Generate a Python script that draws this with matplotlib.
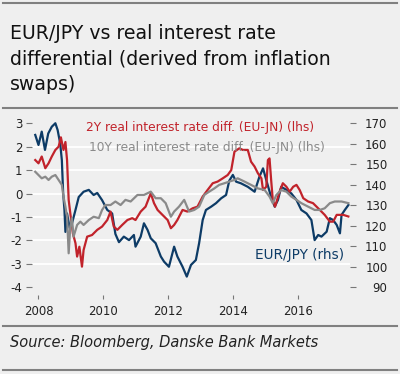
import matplotlib.pyplot as plt
from matplotlib.lines import Line2D

# decimal years and values
fx_t = [2007.90, 2008.00, 2008.10, 2008.20, 2008.30, 2008.41, 2008.52, 2008.59, 2008.67, 2008.72,
        2008.76, 2008.80, 2008.83, 2008.88, 2008.96, 2009.03, 2009.14, 2009.24, 2009.39, 2009.55,
        2009.70, 2009.81, 2009.96, 2010.12, 2010.27, 2010.37, 2010.48, 2010.63, 2010.79, 2010.94,
        2010.99, 2011.15, 2011.25, 2011.36, 2011.46, 2011.61, 2011.77, 2011.87, 2012.02, 2012.18,
        2012.28, 2012.44, 2012.57, 2012.70, 2012.85, 2012.95, 2013.06, 2013.16, 2013.32, 2013.47,
        2013.63, 2013.78, 2013.88, 2013.99, 2014.09, 2014.24, 2014.45, 2014.66, 2014.81, 2014.92,
        2015.02, 2015.17, 2015.28, 2015.38, 2015.48, 2015.64, 2015.79, 2015.95, 2016.10, 2016.26,
        2016.41, 2016.51, 2016.62, 2016.72, 2016.88, 2016.98, 2017.08, 2017.19, 2017.29, 2017.34,
        2017.44, 2017.55]
eurjpy = [164.3, 159.4, 165.9, 157.0, 165.0, 168.3, 170.0, 166.7, 160.0, 152.0,
          136.0, 127.7, 117.0, 126.0, 119.0, 121.0, 127.7, 134.0, 136.6, 137.5,
          135.0, 136.0, 132.5, 127.7, 126.0, 116.0, 112.0, 114.7, 113.0, 115.5,
          109.8, 114.7, 121.2, 118.0, 113.9, 111.5, 105.0, 102.5, 100.0, 109.8,
          105.0, 100.0, 95.2, 100.9, 103.3, 111.5, 122.8, 127.7, 129.3, 131.0,
          133.4, 135.0, 142.0, 144.8, 141.5, 140.7, 139.0, 136.6, 144.0, 148.0,
          142.3, 134.0, 129.3, 132.6, 139.0, 137.5, 135.8, 132.6, 127.7, 126.0,
          122.8, 113.0, 115.5, 114.7, 117.1, 123.7, 122.8, 120.4, 116.3, 125.3,
          127.7, 130.1]

r2_t = [2007.90, 2008.00, 2008.10, 2008.21, 2008.31, 2008.41, 2008.52, 2008.62, 2008.69, 2008.77,
        2008.83, 2008.88, 2008.93, 2008.98, 2009.06, 2009.14, 2009.19, 2009.26, 2009.34, 2009.39,
        2009.50, 2009.65, 2009.81, 2009.96, 2010.12, 2010.22, 2010.32, 2010.43, 2010.58, 2010.74,
        2010.89, 2010.99, 2011.15, 2011.30, 2011.46, 2011.56, 2011.67, 2011.82, 2011.98, 2012.08,
        2012.18, 2012.28, 2012.44, 2012.59, 2012.75, 2012.90, 2013.06, 2013.21, 2013.37, 2013.52,
        2013.68, 2013.83, 2013.94, 2014.04, 2014.19, 2014.30, 2014.45, 2014.55, 2014.66, 2014.76,
        2014.87, 2014.92, 2015.02, 2015.07, 2015.12, 2015.17, 2015.22, 2015.29, 2015.43, 2015.53,
        2015.64, 2015.74, 2015.85, 2015.95, 2016.05, 2016.16, 2016.31, 2016.46, 2016.62, 2016.82,
        2016.98, 2017.08, 2017.19, 2017.29, 2017.39, 2017.55]
real2y = [1.43, 1.29, 1.58, 1.08, 1.29, 1.58, 1.86, 2.0, 2.4, 1.86,
          2.2, 1.43, -0.27, -0.84, -1.7, -2.12, -2.69, -2.27, -3.12, -2.41,
          -1.84, -1.77, -1.55, -1.41, -1.13, -0.77, -1.41, -1.55, -1.34, -1.13,
          -1.05, -1.13, -0.77, -0.56, 0.01, -0.41, -0.7, -0.91, -1.13, -1.48,
          -1.34, -1.13, -0.7, -0.77, -0.63, -0.56, -0.13, 0.15, 0.44, 0.51,
          0.65, 0.79, 1.0, 1.79, 1.93, 1.86, 1.86, 1.36, 1.15, 0.87,
          0.65, 0.15, 0.29, 1.43, 1.5, 0.58, -0.27, -0.56, 0.08, 0.44,
          0.29, 0.08, 0.29, 0.37, 0.15, -0.2, -0.34, -0.41, -0.63, -0.91,
          -1.2, -1.2, -0.91, -0.91, -0.91, -0.98]

r10_t = [2007.90, 2008.00, 2008.10, 2008.21, 2008.31, 2008.41, 2008.52, 2008.62, 2008.72, 2008.77,
         2008.83, 2008.88, 2008.93, 2008.98, 2009.03, 2009.08, 2009.19, 2009.29, 2009.39, 2009.55,
         2009.70, 2009.86, 2009.96, 2010.06, 2010.22, 2010.37, 2010.53, 2010.68, 2010.84, 2011.05,
         2011.25, 2011.46, 2011.61, 2011.77, 2011.92, 2012.08, 2012.18, 2012.33, 2012.49, 2012.64,
         2012.80, 2012.95, 2013.11, 2013.26, 2013.42, 2013.57, 2013.73, 2013.88, 2014.04, 2014.14,
         2014.35, 2014.55, 2014.76, 2014.97, 2015.12, 2015.22, 2015.33, 2015.48, 2015.64, 2015.79,
         2015.95, 2016.10, 2016.31, 2016.51, 2016.67, 2016.82, 2016.98, 2017.13, 2017.34, 2017.55]
real10y = [0.93, 0.79, 0.65, 0.72, 0.58, 0.72, 0.79, 0.58, 0.37, -0.13,
           -0.56, -0.99, -2.55, -1.41, -1.05, -1.84, -1.34, -1.2, -1.34, -1.13,
           -0.99, -1.05, -0.7, -0.49, -0.49, -0.34, -0.49, -0.27, -0.34, -0.06,
           -0.06, 0.08, -0.2, -0.2, -0.41, -0.99, -0.77, -0.56, -0.27, -0.77,
           -0.7, -0.56, -0.06, 0.08, 0.22, 0.37, 0.44, 0.51, 0.58, 0.65,
           0.51, 0.37, 0.22, 0.15, -0.13, -0.41, -0.06, 0.15, 0.08, -0.13,
           -0.27, -0.41, -0.56, -0.7, -0.7, -0.63, -0.41, -0.34, -0.34, -0.41]

left_ticks = [-4, -3, -2, -1, 0, 1, 2, 3]
right_ticks = [90, 100, 110, 120, 130, 140, 150, 160, 170]
year_ticks = [2008, 2010, 2012, 2014, 2016]

bg = '#efefef'
red = '#c1232b'
navy = '#0d3b66'
grey = '#8a8a8a'
txt = '#222222'

fig = plt.figure(figsize=(4.0, 3.74), dpi=100, facecolor=bg)
W, H = 400, 374

ax = fig.add_axes([32 / W, 1 - 295 / H, 318 / W, 183 / H])
ax2 = ax.twinx()
# rates on top of EUR/JPY
ax.set_zorder(ax2.get_zorder() + 1)
ax.patch.set_visible(False)
ax2.set_facecolor(bg)

ax.set_ylim(-4.33, 3.48)
lo, hi = ax.get_ylim()
ax2.set_ylim(90 + (lo + 4) * 80 / 7, 90 + (hi + 4) * 80 / 7)
ax.set_xlim(2007.8, 2017.6)

# gridlines for the left scale, drawn beneath everything
ax2.set_yticks([90 + (v + 4) * 80 / 7 for v in left_ticks], minor=True)
ax2.grid(which='minor', axis='y', color='white', linewidth=1.3)
ax2.tick_params(which='minor', length=0)

ax2.plot(fx_t, eurjpy, color=navy, linewidth=1.6)
ax.plot(r2_t, real2y, color=red, linewidth=1.6)
ax.plot(r10_t, real10y, color=grey, linewidth=1.6)

for a in (ax, ax2):
    for s in a.spines.values():
        s.set_visible(False)

ax.set_yticks(left_ticks)
ax.set_yticklabels([str(v) for v in left_ticks])
ax.set_xticks(year_ticks)
ax.set_xticklabels([str(v) for v in year_ticks])
ax.tick_params(axis='y', length=4, width=0.8, color='#777777', pad=3,
               labelsize=8.5, labelcolor=txt)
ax.tick_params(axis='x', length=3, width=0.8, color='#777777', pad=4,
               labelsize=8.5, labelcolor=txt)

ax2.set_yticks(right_ticks)
ax2.set_yticklabels([str(v) for v in right_ticks])
ax2.tick_params(axis='y', which='major', length=4, width=0.8, color='#777777', pad=23,
                labelsize=8.5, labelcolor=txt)
for lbl in ax2.get_yticklabels():
    lbl.set_horizontalalignment('right')

# series labels
fig.text(86 / W, 1 - 128 / H, '2Y real interest rate diff. (EU-JN) (lhs)',
         color=red, fontsize=8.8, va='center', ha='left')
fig.text(89 / W, 1 - 147 / H, '10Y real interest rate diff. (EU-JN) (lhs)',
         color=grey, fontsize=8.8, va='center', ha='left')
fig.text(255 / W, 1 - 255 / H, 'EUR/JPY (rhs)',
         color=navy, fontsize=9.8, va='center', ha='left')

# title and source
fig.text(10 / W, 1 - 24 / H, 'EUR/JPY vs real interest rate\ndifferential (derived from inflation\nswaps)',
         fontsize=13.6, color='#111111', va='top', ha='left', linespacing=1.42)
fig.text(10 / W, 1 - 343 / H, 'Source: Bloomberg, Danske Bank Markets',
         fontsize=10.5, style='italic', color=txt, va='center', ha='left')

for yy in (3, 107.5, 326, 370):
    fig.add_artist(Line2D([3 / W, 397 / W], [1 - yy / H, 1 - yy / H],
                          color='#808080', linewidth=1.5))

fig.savefig('out.png', dpi=100, facecolor=bg)
